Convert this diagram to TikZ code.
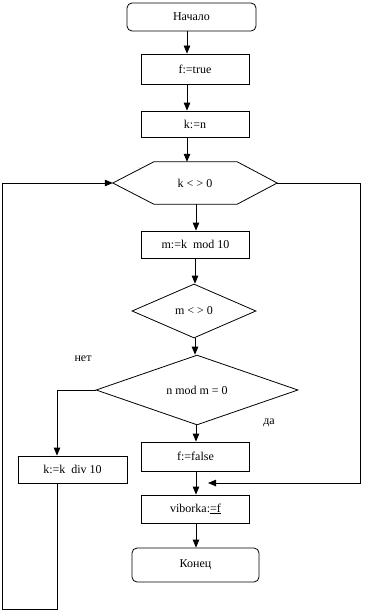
\documentclass[tikz,border=0pt]{standalone}
\usepackage{fontspec}
\setmainfont{Liberation Serif}
\usetikzlibrary{arrows.meta,shapes.geometric}
\begin{document}
\begin{tikzpicture}[x=1pt,y=-1pt,
  every node/.style={font=\fontsize{12}{14}\selectfont},
  box/.style={draw,line width=0.8pt,minimum width=108pt,minimum height=28pt,inner sep=0pt},
  term/.style={draw,line width=0.8pt,rounded corners=5pt,inner sep=0pt},
  dia/.style={draw,line width=0.8pt,diamond,inner sep=0pt},
  arr/.style={line width=0.8pt,-{Triangle[length=8pt,width=6.5pt]}},
  ln/.style={line width=0.8pt}]
\useasboundingbox (0,0) rectangle (366,610);
\node[term,minimum width=129pt,minimum height=28pt] (start) at (191.5,17) {Начало};
\node[box,minimum height=30pt] (ftrue) at (195,69) {f:=true};
\node[box,minimum height=26pt] (kn) at (195,124) {k:=n};
\node[minimum width=164pt,minimum height=42pt,inner sep=0pt] (hex) at (195,183) {k < > 0};
\draw[ln] (hex.west) -- ([xshift=41pt]hex.north west) -- ([xshift=-40pt]hex.north east) -- (hex.east)
  -- ([xshift=-40pt]hex.south east) -- ([xshift=41pt]hex.south west) -- cycle;
\node[box,minimum height=27pt] (mk) at (195.5,244.5) {m:=k\enspace mod 10};
\node[dia,minimum width=124pt,minimum height=54pt] (mne) at (194,311) {m < > 0};
\node[dia,minimum width=202pt,minimum height=54pt] (nmod) at (197,390) {n mod m = 0};
\node[box,minimum height=29pt] (ffalse) at (195.5,456.5) {f:=false};
\node[box,minimum width=109pt,minimum height=27pt] (kdiv) at (72.5,469.5) {k:=k\enspace div 10};
\node[box,minimum height=28pt] (vib) at (195.5,509) {viborka:\underline{=f}};
\node[term,minimum width=127pt,minimum height=34pt] (end) at (195.5,565) {Конец};
\node (net) at (83,359) {нет};
\node (da) at (269,423) {да};
\coordinate (lb) at (2,609);
\coordinate (rt) at (360,183);
\coordinate (tip) at (208,483);
% main flow
\draw[arr] ([xshift=-4.5pt]start.south) -- ([xshift=-4.5pt]start.south |- ftrue.north);
\draw[arr] ([xshift=-8pt]ftrue.south) -- ([xshift=-8pt]ftrue.south |- kn.north);
\draw[arr] ([xshift=-8pt]kn.south) -- ([xshift=-8pt]kn.south |- hex.north);
\draw[arr] ([xshift=1pt]hex.south) -- ([xshift=1pt]hex.south |- mk.north);
\draw[arr] ([xshift=-0.5pt]mk.south) -- ([xshift=-0.5pt]mk.south |- mne.north);
\draw[arr] ([xshift=1pt]mne.south) -- ([xshift=1pt]mne.south |- nmod.north);
\draw[arr] ([xshift=-1pt]nmod.south) -- ([xshift=-1pt]nmod.south |- ffalse.north);
\draw[arr] ([xshift=0.5pt]ffalse.south) -- ([xshift=0.5pt]ffalse.south |- vib.north);
\draw[arr] ([xshift=0.5pt]vib.south) -- ([xshift=0.5pt]vib.south |- end.north);
% no branch
\draw[arr] (nmod.west) -- ([xshift=-15.5pt]nmod.west -| kdiv.north) -- ([xshift=-15.5pt]kdiv.north);
% loop back
\draw[arr] ([xshift=-15.5pt]kdiv.south) -- ([xshift=-15.5pt]kdiv.south |- lb) -- (lb) -- (lb |- hex.west) -- (hex.west);
% exit
\draw[arr] (hex.east) -- (rt) -- (rt |- tip) -- (tip);
\end{tikzpicture}
\end{document}
